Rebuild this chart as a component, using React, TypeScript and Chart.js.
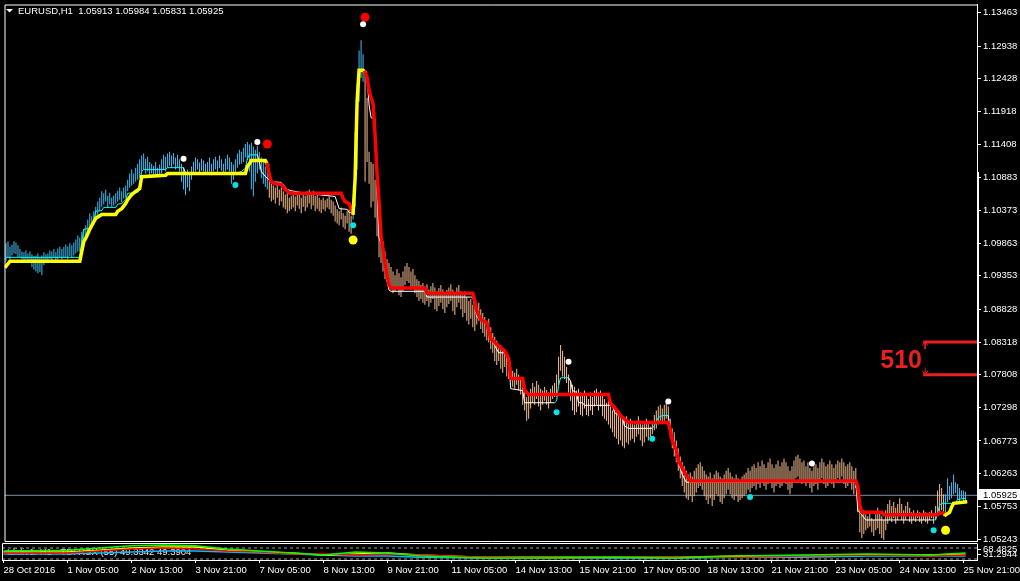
import React, { useEffect, useRef } from 'react';
import { Chart, registerables } from 'chart.js';

Chart.register(...registerables);

// ---------- data ----------
const HEADER_TEXT = 'EURUSD,H1  1.05913 1.05984 1.05831 1.05925';
const IND_TEXT = 'tdidiv1: H1 - TDI RSX (55) 49.3342 49.3904';

const X_TICK_IDX = [0, 32, 64, 96, 128, 160, 192, 224, 256, 288, 320, 352, 384, 416, 448, 480];
const X_TICK_LABELS = ['28 Oct 2016', '1 Nov 05:00', '2 Nov 13:00', '3 Nov 21:00', '7 Nov 05:00', '8 Nov 13:00', '9 Nov 21:00', '11 Nov 05:00', '14 Nov 13:00', '15 Nov 21:00', '17 Nov 05:00', '18 Nov 13:00', '21 Nov 21:00', '23 Nov 05:00', '24 Nov 13:00', '25 Nov 21:00'];

const Y_TICKS = [1.13463, 1.12938, 1.12428, 1.11918, 1.11408, 1.10883, 1.10373, 1.09863, 1.09353, 1.08828, 1.08318, 1.07808, 1.07298, 1.06773, 1.06263, 1.05753, 1.05243];

const BAR_HIGH = [
  1.0986, 1.0989, 1.0980, 1.0984, 1.0989, 1.0987, 1.0983, 1.0977, 1.0973, 1.0972,
  1.0975, 1.0970, 1.0973, 1.0969, 1.0966, 1.0967, 1.0970, 1.0964, 1.0967, 1.0972,
  1.0969, 1.0970, 1.0975, 1.0973, 1.0977, 1.0972, 1.0978, 1.0981, 1.0977, 1.0980,
  1.0984, 1.0981, 1.0986, 1.0983, 1.0987, 1.0992, 1.0998, 1.0995, 1.1004, 1.1008,
  1.1014, 1.1023, 1.1033, 1.1028, 1.1036, 1.1043, 1.1051, 1.1057, 1.1067, 1.1064,
  1.1070, 1.1060, 1.1065, 1.1057, 1.1060, 1.1064, 1.1068, 1.1073, 1.1067, 1.1073,
  1.1076, 1.1085, 1.1095, 1.1101, 1.1095, 1.1104, 1.1110, 1.1117, 1.1123, 1.1126,
  1.1118, 1.1121, 1.1113, 1.1110, 1.1107, 1.1113, 1.1104, 1.1109, 1.1117, 1.1124,
  1.1121, 1.1126, 1.1129, 1.1123, 1.1127, 1.1120, 1.1124, 1.1117, 1.1110, 1.1104,
  1.1098, 1.1101, 1.1095, 1.1106, 1.1113, 1.1120, 1.1117, 1.1112, 1.1118, 1.1115,
  1.1110, 1.1113, 1.1120, 1.1110, 1.1117, 1.1121, 1.1115, 1.1123, 1.1117, 1.1110,
  1.1118, 1.1124, 1.1120, 1.1113, 1.1109, 1.1117, 1.1126, 1.1132, 1.1129, 1.1135,
  1.1141, 1.1144, 1.1140, 1.1143, 1.1137, 1.1132, 1.1138, 1.1129, 1.1120, 1.1113,
  1.1106, 1.1098, 1.1088, 1.1079, 1.1076, 1.1073, 1.1078, 1.1070, 1.1073, 1.1067,
  1.1062, 1.1064, 1.1057, 1.1060, 1.1064, 1.1059, 1.1067, 1.1062, 1.1057, 1.1064,
  1.1060, 1.1067, 1.1070, 1.1064, 1.1068, 1.1060, 1.1065, 1.1057, 1.1054, 1.1057,
  1.1053, 1.1056, 1.1059, 1.1054, 1.1051, 1.1045, 1.1039, 1.1036, 1.1042, 1.1033,
  1.1029, 1.1036, 1.1039, 1.1029, 1.1057, 1.1160, 1.1234, 1.1287, 1.1303, 1.1281,
  1.1253, 1.1213, 1.1129, 1.1113, 1.1110, 1.1085, 1.1098, 1.1033, 1.1001, 1.0989,
  1.0973, 1.0961, 1.0955, 1.0949, 1.0942, 1.0936, 1.0946, 1.0939, 1.0933, 1.0942,
  1.0950, 1.0955, 1.0949, 1.0942, 1.0946, 1.0936, 1.0930, 1.0927, 1.0921, 1.0924,
  1.0917, 1.0922, 1.0914, 1.0919, 1.0924, 1.0917, 1.0911, 1.0916, 1.0921, 1.0914,
  1.0908, 1.0913, 1.0917, 1.0922, 1.0914, 1.0908, 1.0917, 1.0921, 1.0911, 1.0905,
  1.0911, 1.0902, 1.0896, 1.0899, 1.0890, 1.0883, 1.0886, 1.0893, 1.0883, 1.0877,
  1.0871, 1.0865, 1.0868, 1.0855, 1.0846, 1.0840, 1.0834, 1.0824, 1.0827, 1.0818,
  1.0821, 1.0815, 1.0802, 1.0793, 1.0787, 1.0784, 1.0790, 1.0781, 1.0774, 1.0762,
  1.0756, 1.0746, 1.0750, 1.0759, 1.0768, 1.0762, 1.0771, 1.0765, 1.0759, 1.0756,
  1.0762, 1.0757, 1.0753, 1.0759, 1.0764, 1.0768, 1.0781, 1.0809, 1.0827, 1.0818,
  1.0809, 1.0793, 1.0781, 1.0771, 1.0765, 1.0762, 1.0756, 1.0759, 1.0753, 1.0750,
  1.0756, 1.0750, 1.0743, 1.0753, 1.0746, 1.0756, 1.0759, 1.0753, 1.0756, 1.0750,
  1.0743, 1.0737, 1.0740, 1.0731, 1.0725, 1.0728, 1.0722, 1.0716, 1.0718, 1.0712,
  1.0709, 1.0716, 1.0706, 1.0712, 1.0709, 1.0703, 1.0709, 1.0716, 1.0709, 1.0703,
  1.0706, 1.0712, 1.0706, 1.0700, 1.0709, 1.0718, 1.0725, 1.0731, 1.0734, 1.0728,
  1.0734, 1.0737, 1.0731, 1.0712, 1.0697, 1.0691, 1.0678, 1.0666, 1.0653, 1.0644,
  1.0638, 1.0631, 1.0625, 1.0628, 1.0622, 1.0631, 1.0635, 1.0641, 1.0644, 1.0638,
  1.0631, 1.0625, 1.0622, 1.0628, 1.0619, 1.0625, 1.0631, 1.0628, 1.0622, 1.0619,
  1.0625, 1.0631, 1.0635, 1.0628, 1.0622, 1.0619, 1.0625, 1.0619, 1.0616, 1.0622,
  1.0625, 1.0628, 1.0635, 1.0631, 1.0638, 1.0641, 1.0635, 1.0644, 1.0638, 1.0647,
  1.0641, 1.0635, 1.0644, 1.0650, 1.0641, 1.0635, 1.0641, 1.0647, 1.0638, 1.0644,
  1.0650, 1.0644, 1.0638, 1.0631, 1.0638, 1.0647, 1.0653, 1.0656, 1.0650, 1.0644,
  1.0647, 1.0638, 1.0644, 1.0635, 1.0631, 1.0638, 1.0641, 1.0635, 1.0644, 1.0650,
  1.0644, 1.0638, 1.0641, 1.0647, 1.0641, 1.0635, 1.0641, 1.0647, 1.0644, 1.0650,
  1.0644, 1.0638, 1.0641, 1.0644, 1.0638, 1.0631, 1.0635, 1.0610, 1.0576, 1.0566,
  1.0569, 1.0563, 1.0560, 1.0566, 1.0557, 1.0554, 1.0563, 1.0573, 1.0566, 1.0560,
  1.0554, 1.0569, 1.0579, 1.0585, 1.0576, 1.0582, 1.0573, 1.0579, 1.0588, 1.0579,
  1.0569, 1.0576, 1.0582, 1.0573, 1.0566, 1.0569, 1.0563, 1.0569, 1.0566, 1.0563,
  1.0569, 1.0566, 1.0561, 1.0566, 1.0569, 1.0563, 1.0576, 1.0600, 1.0610, 1.0604,
  1.0594, 1.0594, 1.0619, 1.0607, 1.0613, 1.0625, 1.0613, 1.0610, 1.0604, 1.0600,
  1.0600, 1.0598,
];

const BAR_LOW = [
  1.0958, 1.0964, 1.0961, 1.0967, 1.0970, 1.0969, 1.0964, 1.0963, 1.0961, 1.0960,
  1.0961, 1.0960, 1.0955, 1.0949, 1.0945, 1.0942, 1.0939, 1.0941, 1.0936, 1.0952,
  1.0955, 1.0958, 1.0961, 1.0960, 1.0963, 1.0958, 1.0961, 1.0964, 1.0961, 1.0963,
  1.0964, 1.0961, 1.0966, 1.0963, 1.0967, 1.0970, 1.0973, 1.0972, 1.0977, 1.0981,
  1.0989, 1.0995, 1.1001, 1.1008, 1.1014, 1.1020, 1.1029, 1.1036, 1.1043, 1.1047,
  1.1051, 1.1042, 1.1047, 1.1043, 1.1045, 1.1048, 1.1051, 1.1054, 1.1050, 1.1056,
  1.1057, 1.1067, 1.1073, 1.1076, 1.1079, 1.1082, 1.1085, 1.1088, 1.1098, 1.1101,
  1.1095, 1.1098, 1.1092, 1.1095, 1.1092, 1.1093, 1.1090, 1.1093, 1.1095, 1.1101,
  1.1098, 1.1104, 1.1107, 1.1104, 1.1109, 1.1101, 1.1104, 1.1098, 1.1082, 1.1070,
  1.1061, 1.1073, 1.1067, 1.1085, 1.1095, 1.1098, 1.1101, 1.1096, 1.1099, 1.1098,
  1.1095, 1.1095, 1.1098, 1.1092, 1.1098, 1.1101, 1.1096, 1.1103, 1.1099, 1.1093,
  1.1098, 1.1101, 1.1098, 1.1079, 1.1085, 1.1095, 1.1104, 1.1109, 1.1110, 1.1113,
  1.1120, 1.1116, 1.1098, 1.1070, 1.1059, 1.1082, 1.1095, 1.1101, 1.1088, 1.1079,
  1.1074, 1.1070, 1.1057, 1.1051, 1.1054, 1.1048, 1.1057, 1.1045, 1.1051, 1.1042,
  1.1039, 1.1033, 1.1036, 1.1039, 1.1042, 1.1036, 1.1045, 1.1040, 1.1033, 1.1043,
  1.1036, 1.1042, 1.1048, 1.1039, 1.1045, 1.1036, 1.1040, 1.1036, 1.1033, 1.1039,
  1.1036, 1.1042, 1.1039, 1.1033, 1.1029, 1.1020, 1.1017, 1.1014, 1.1023, 1.1011,
  1.1008, 1.1017, 1.1004, 1.1001, 1.1023, 1.1043, 1.1101, 1.1207, 1.1244, 1.1238,
  1.1082, 1.1113, 1.1079, 1.1042, 1.1051, 1.1026, 1.0997, 1.0964, 1.0955, 1.0942,
  1.0930, 1.0927, 1.0921, 1.0914, 1.0908, 1.0911, 1.0917, 1.0905, 1.0902, 1.0911,
  1.0921, 1.0927, 1.0924, 1.0914, 1.0917, 1.0908, 1.0902, 1.0896, 1.0899, 1.0893,
  1.0890, 1.0896, 1.0887, 1.0893, 1.0899, 1.0883, 1.0880, 1.0888, 1.0893, 1.0883,
  1.0877, 1.0886, 1.0891, 1.0896, 1.0880, 1.0874, 1.0886, 1.0893, 1.0883, 1.0871,
  1.0877, 1.0865, 1.0859, 1.0868, 1.0855, 1.0849, 1.0859, 1.0865, 1.0852, 1.0846,
  1.0840, 1.0834, 1.0831, 1.0821, 1.0815, 1.0802, 1.0796, 1.0802, 1.0790, 1.0784,
  1.0793, 1.0778, 1.0774, 1.0771, 1.0762, 1.0759, 1.0765, 1.0756, 1.0750, 1.0734,
  1.0725, 1.0709, 1.0712, 1.0728, 1.0737, 1.0734, 1.0743, 1.0731, 1.0725, 1.0734,
  1.0740, 1.0734, 1.0728, 1.0737, 1.0743, 1.0746, 1.0746, 1.0764, 1.0787, 1.0778,
  1.0774, 1.0768, 1.0753, 1.0740, 1.0725, 1.0718, 1.0722, 1.0731, 1.0718, 1.0716,
  1.0728, 1.0718, 1.0716, 1.0725, 1.0718, 1.0731, 1.0734, 1.0725, 1.0731, 1.0716,
  1.0712, 1.0709, 1.0703, 1.0697, 1.0691, 1.0684, 1.0681, 1.0672, 1.0678, 1.0669,
  1.0666, 1.0675, 1.0672, 1.0678, 1.0681, 1.0675, 1.0684, 1.0688, 1.0678, 1.0669,
  1.0675, 1.0684, 1.0678, 1.0681, 1.0688, 1.0694, 1.0697, 1.0703, 1.0709, 1.0706,
  1.0709, 1.0712, 1.0700, 1.0681, 1.0666, 1.0653, 1.0644, 1.0631, 1.0619, 1.0607,
  1.0597, 1.0588, 1.0585, 1.0591, 1.0582, 1.0591, 1.0597, 1.0604, 1.0607, 1.0601,
  1.0591, 1.0585, 1.0579, 1.0588, 1.0576, 1.0585, 1.0594, 1.0591, 1.0582, 1.0579,
  1.0588, 1.0594, 1.0601, 1.0594, 1.0588, 1.0585, 1.0591, 1.0582, 1.0585, 1.0588,
  1.0591, 1.0594, 1.0601, 1.0597, 1.0604, 1.0607, 1.0601, 1.0610, 1.0604, 1.0613,
  1.0607, 1.0601, 1.0610, 1.0613, 1.0604, 1.0597, 1.0607, 1.0610, 1.0604, 1.0607,
  1.0616, 1.0610, 1.0601, 1.0594, 1.0604, 1.0613, 1.0619, 1.0622, 1.0616, 1.0610,
  1.0613, 1.0607, 1.0613, 1.0604, 1.0597, 1.0607, 1.0610, 1.0601, 1.0613, 1.0619,
  1.0610, 1.0604, 1.0607, 1.0616, 1.0610, 1.0604, 1.0613, 1.0619, 1.0616, 1.0622,
  1.0610, 1.0604, 1.0607, 1.0613, 1.0601, 1.0594, 1.0604, 1.0566, 1.0535, 1.0526,
  1.0532, 1.0538, 1.0541, 1.0544, 1.0535, 1.0529, 1.0538, 1.0541, 1.0532, 1.0526,
  1.0523, 1.0538, 1.0548, 1.0554, 1.0551, 1.0557, 1.0548, 1.0554, 1.0560, 1.0554,
  1.0548, 1.0554, 1.0560, 1.0551, 1.0548, 1.0554, 1.0551, 1.0557, 1.0551, 1.0548,
  1.0554, 1.0551, 1.0548, 1.0554, 1.0557, 1.0548, 1.0554, 1.0562, 1.0566, 1.0569,
  1.0560, 1.0563, 1.0582, 1.0585, 1.0588, 1.0594, 1.0596, 1.0585, 1.0582, 1.0588,
  1.0580, 1.0583,
];

// trend regime per bar (U = up / blue bars, D = down / tan bars)
const TREND_SWITCH_IDX = [0, 132, 174, 180, 471];
const TREND_SWITCH_DIR = ['U', 'D', 'U', 'D', 'U'];

// thick support/resistance line (yellow when U, red when D)
const TREND_IDX = [0, 2, 37, 39, 40, 42, 45, 47, 48, 55, 56, 58, 60, 61, 63, 65, 67, 68, 80, 81, 120, 121, 122, 123, 130, 131, 132, 133, 135, 138, 140, 142, 143, 168, 169, 170, 172, 173, 174, 175, 176, 177, 179, 180, 181, 182, 183, 184, 185, 186, 187, 188, 189, 190, 191, 192, 193, 210, 211, 234, 235, 236, 237, 238, 241, 243, 245, 248, 250, 252, 253, 259, 260, 262, 302, 303, 305, 307, 308, 310, 312, 332, 333, 334, 336, 337, 339, 341, 343, 426, 427, 428, 429, 439, 440, 467, 468, 470, 471, 473, 474, 475, 481];
const TREND_PRICE = [1.0950, 1.0958, 1.0958, 1.0989, 1.0994, 1.1008, 1.1025, 1.1029, 1.1031, 1.1031, 1.1036, 1.1040, 1.1048, 1.1054, 1.1062, 1.1067, 1.1071, 1.1090, 1.1092, 1.1095, 1.1095, 1.1106, 1.1110, 1.1115, 1.1115, 1.1109, 1.1093, 1.1082, 1.1079, 1.1078, 1.1070, 1.1065, 1.1064, 1.1064, 1.1056, 1.1051, 1.1048, 1.1040, 1.1033, 1.1087, 1.1207, 1.1256, 1.1256, 1.1253, 1.1245, 1.1225, 1.1213, 1.1204, 1.1155, 1.1095, 1.1051, 1.0997, 1.0977, 1.0955, 1.0935, 1.0921, 1.0916, 1.0916, 1.0908, 1.0908, 1.0896, 1.0880, 1.0873, 1.0867, 1.0862, 1.0837, 1.0831, 1.0823, 1.0818, 1.0806, 1.0775, 1.0775, 1.0756, 1.0750, 1.0750, 1.0736, 1.0730, 1.0722, 1.0717, 1.0712, 1.0706, 1.0706, 1.0694, 1.0678, 1.0663, 1.0647, 1.0635, 1.0624, 1.0615, 1.0615, 1.0606, 1.0577, 1.0566, 1.0566, 1.0562, 1.0562, 1.0565, 1.0565, 1.0562, 1.0566, 1.0574, 1.0580, 1.0582];
const TREND_DIR = ['U', 'U', 'U', 'U', 'U', 'U', 'U', 'U', 'U', 'U', 'U', 'U', 'U', 'U', 'U', 'U', 'U', 'U', 'U', 'U', 'U', 'U', 'U', 'U', 'U', 'D', 'D', 'D', 'D', 'D', 'D', 'D', 'D', 'D', 'D', 'D', 'D', 'D', 'U', 'U', 'U', 'U', 'U', 'D', 'D', 'D', 'D', 'D', 'D', 'D', 'D', 'D', 'D', 'D', 'D', 'D', 'D', 'D', 'D', 'D', 'D', 'D', 'D', 'D', 'D', 'D', 'D', 'D', 'D', 'D', 'D', 'D', 'D', 'D', 'D', 'D', 'D', 'D', 'D', 'D', 'D', 'D', 'D', 'D', 'D', 'D', 'D', 'D', 'D', 'D', 'D', 'D', 'D', 'D', 'D', 'D', 'D', 'D', 'U', 'U', 'U', 'U', 'U'];

// thin trailing line (cyan when C, white when W)
const TRAIL_IDX = [0, 37, 38, 39, 42, 44, 45, 48, 49, 55, 56, 58, 60, 61, 66, 67, 68, 69, 80, 81, 89, 90, 115, 118, 120, 121, 122, 126, 127, 128, 130, 132, 133, 138, 140, 141, 143, 150, 165, 167, 171, 172, 174, 175, 176, 177, 178, 180, 181, 182, 183, 185, 186, 187, 189, 190, 191, 192, 193, 210, 211, 234, 236, 240, 242, 245, 247, 250, 252, 253, 259, 260, 275, 276, 277, 278, 282, 283, 284, 286, 287, 289, 290, 304, 305, 307, 309, 310, 312, 324, 325, 327, 329, 332, 333, 335, 337, 339, 341, 343, 426, 427, 429, 431, 465, 466, 467, 468, 469, 476, 477, 481];
const TRAIL_PRICE = [1.0964, 1.0964, 1.0989, 1.1008, 1.1009, 1.1020, 1.1036, 1.1037, 1.1042, 1.1042, 1.1047, 1.1048, 1.1054, 1.1064, 1.1065, 1.1071, 1.1098, 1.1101, 1.1101, 1.1104, 1.1104, 1.1095, 1.1095, 1.1098, 1.1103, 1.1118, 1.1124, 1.1124, 1.1113, 1.1098, 1.1090, 1.1085, 1.1082, 1.1081, 1.1074, 1.1070, 1.1068, 1.1064, 1.1059, 1.1040, 1.1039, 1.1034, 1.1033, 1.1087, 1.1207, 1.1256, 1.1256, 1.1256, 1.1245, 1.1202, 1.1182, 1.1180, 1.1067, 1.0994, 1.0978, 1.0946, 1.0927, 1.0913, 1.0911, 1.0911, 1.0902, 1.0902, 1.0871, 1.0865, 1.0849, 1.0826, 1.0815, 1.0815, 1.0802, 1.0759, 1.0756, 1.0737, 1.0737, 1.0740, 1.0764, 1.0776, 1.0776, 1.0771, 1.0756, 1.0753, 1.0737, 1.0737, 1.0733, 1.0733, 1.0722, 1.0717, 1.0714, 1.0701, 1.0697, 1.0697, 1.0701, 1.0714, 1.0717, 1.0717, 1.0694, 1.0666, 1.0644, 1.0625, 1.0613, 1.0613, 1.0613, 1.0569, 1.0562, 1.0554, 1.0554, 1.0554, 1.0565, 1.0577, 1.0580, 1.0580, 1.0586, 1.0588];
const TRAIL_DIR = ['C', 'C', 'C', 'C', 'C', 'C', 'C', 'C', 'C', 'C', 'C', 'C', 'C', 'C', 'C', 'C', 'C', 'C', 'C', 'C', 'W', 'W', 'C', 'C', 'C', 'C', 'C', 'W', 'W', 'W', 'W', 'W', 'W', 'W', 'W', 'W', 'W', 'W', 'W', 'W', 'W', 'W', 'C', 'C', 'C', 'C', 'W', 'W', 'W', 'W', 'W', 'W', 'W', 'W', 'W', 'W', 'W', 'W', 'W', 'W', 'W', 'W', 'W', 'W', 'W', 'W', 'W', 'W', 'W', 'W', 'W', 'W', 'C', 'C', 'C', 'C', 'W', 'W', 'W', 'W', 'W', 'W', 'W', 'W', 'W', 'W', 'W', 'W', 'W', 'C', 'C', 'C', 'C', 'W', 'W', 'W', 'W', 'W', 'W', 'W', 'W', 'W', 'W', 'W', 'C', 'C', 'C', 'C', 'C', 'C', 'C', 'C'];

// signal dots
const WHITE_DOT_IDX = [89, 126, 179, 282, 332, 404];
const WHITE_DOT_PRICE = [1.1118, 1.1144, 1.1328, 1.0801, 1.0739, 1.0642];
const RED_DOT_IDX = [131, 180];
const RED_DOT_PRICE = [1.1141, 1.1339];
const CYAN_DOT_IDX = [115, 174, 276, 324, 373, 465];
const CYAN_DOT_PRICE = [1.1077, 1.1014, 1.0722, 1.0681, 1.0590, 1.0538];
const YELLOW_DOT_IDX = [174, 471];
const YELLOW_DOT_PRICE = [1.0991, 1.0538];

const CURRENT_PRICE = 1.05925;

// the "510" drawing
const LEVEL_PRICES = [1.08318, 1.07808];
const LEVEL_START_IDX = 459.75;
const LEVEL_TEXT = '510';
const LEVEL_TEXT_IDX = 438.25;
const LEVEL_TEXT_PRICE = 1.0791;
const ARROW_UP_IDX = [459.25, 460.75, 462.25];
const ARROW_UP_PRICE = [1.0826, 1.0832, 1.0826];
const ARROW_DN_IDX = [459.25, 460.75, 462.25];
const ARROW_DN_PRICE = [1.0787, 1.0781, 1.0787];

// TDI indicator sub-window
const IND_IDX = [0, 32, 48, 64, 80, 96, 112, 128, 144, 160, 176, 192, 208, 240, 272, 304, 336, 368, 400, 432, 464, 481];
const IND_GREEN = [58, 61, 68, 75, 78, 75, 65, 58, 52, 45, 55, 52, 42, 35, 35, 38, 35, 42, 45, 48, 45, 52];
const IND_YELLOW = [55, 55, 61, 68, 71, 71, 61, 55, 52, 45, 48, 52, 45, 38, 38, 38, 38, 42, 42, 45, 45, 48];
const IND_RED = [52, 52, 58, 65, 68, 65, 58, 55, 48, 48, 45, 48, 45, 38, 35, 38, 38, 38, 42, 45, 42, 45];
const IND_CYAN = [48, 48, 52, 55, 58, 58, 55, 52, 48, 45, 42, 42, 38, 35, 35, 35, 35, 38, 38, 42, 42, 42];
const IND_LEVELS = [68, 32];
const IND_AXIS_VALUES = [64.5, 45.5];
const IND_AXIS_LABELS = ['68.4825', '31.2944'];

// ---------- layout / style ----------
const X_MIN = -0.75;
const X_MAX = 486.75;
const Y_MIN = 1.052118;
const Y_MAX = 1.135873;
const IND_MIN = 28.7;
const IND_MAX = 81.1;
const FONT = "'Liberation Sans', Arial, sans-serif";
const FS = 9.5;
const AXIS_W = 43;

const C_BLUE = '#44BCF2';
const C_TAN = '#F6BE92';
const C_YELLOW = '#FFFF00';
const C_RED = '#FF0000';
const C_CYAN = '#00FFFF';
const C_WHITE = '#FFFFFF';
const C_LEVEL = '#EB1E23';

function regimeAt(i: number) {
  let d = 'U';
  for (let k = 0; k < TREND_SWITCH_IDX.length; k++) if (i >= TREND_SWITCH_IDX[k]) d = TREND_SWITCH_DIR[k];
  return d;
}

const pts = (xs: number[], ys: number[]) => xs.map((x, i) => ({ x, y: ys[i] }));

function dots(xs: number[], ys: number[], color: string, r: number) {
  return {
    type: 'line', data: pts(xs, ys), showLine: false, pointRadius: r, pointBackgroundColor: color,
    pointBorderWidth: 0, pointBorderColor: color, order: 0,
  };
}

function buildMain(canvas: HTMLCanvasElement) {
  const barColors = BAR_HIGH.map((_, i) => (regimeAt(i) === 'U' ? C_BLUE : C_TAN));
  const decor = {
    id: 'mainDecor',
    beforeDraw(chart: any) {
      const { ctx, width, height } = chart;
      ctx.save();
      ctx.fillStyle = '#000000';
      ctx.fillRect(0, 0, width, height);
      ctx.restore();
    },
    afterDraw(chart: any) {
      const { ctx, chartArea: ca, scales } = chart;
      const y = scales.y; const x = scales.x;
      ctx.save();
      ctx.strokeStyle = '#FFFFFF';
      ctx.lineWidth = 1;
      ctx.beginPath();
      ctx.moveTo(ca.left + 0.5, ca.bottom + 0.5);
      ctx.lineTo(ca.left + 0.5, ca.top + 0.5);
      ctx.lineTo(ca.right + 0.5, ca.top + 0.5);
      ctx.moveTo(ca.left + 0.5, ca.bottom + 0.5);
      ctx.lineTo(ca.right + 0.5, ca.bottom + 0.5);
      ctx.moveTo(ca.right + 1.5, 172);
      ctx.lineTo(ca.right + 1.5, 489);
      ctx.stroke();
      // header
      ctx.fillStyle = '#FFFFFF';
      ctx.beginPath();
      ctx.moveTo(6, 9); ctx.lineTo(13, 9); ctx.lineTo(9.5, 12.5); ctx.closePath();
      ctx.fill();
      ctx.font = `${FS}px ${FONT}`;
      ctx.textAlign = 'left';
      ctx.textBaseline = 'alphabetic';
      ctx.fillText(HEADER_TEXT, 18, 14);
      // current price label
      const py = Math.round(y.getPixelForValue(CURRENT_PRICE)) - 0.5;
      ctx.fillStyle = '#FFFFFF';
      ctx.fillRect(ca.right + 1, py - 5.5, AXIS_W, 11);
      ctx.fillStyle = '#000000';
      ctx.textBaseline = 'middle';
      ctx.fillText(CURRENT_PRICE.toFixed(5), ca.right + 6, py + 0.5);
      // 510 text
      ctx.fillStyle = C_LEVEL;
      ctx.font = `bold 25px ${FONT}`;
      ctx.textBaseline = 'alphabetic';
      ctx.fillText(LEVEL_TEXT, x.getPixelForValue(LEVEL_TEXT_IDX), y.getPixelForValue(LEVEL_TEXT_PRICE));
      ctx.restore();
    },
  };

  return new Chart(canvas, {
    type: 'line',
    data: {
      datasets: [
        dots(WHITE_DOT_IDX, WHITE_DOT_PRICE, C_WHITE, 3),
        dots(RED_DOT_IDX, RED_DOT_PRICE, C_RED, 4.5),
        dots(CYAN_DOT_IDX, CYAN_DOT_PRICE, '#00E6E6', 3),
        dots(YELLOW_DOT_IDX, YELLOW_DOT_PRICE, C_YELLOW, 4.5),
        {
          type: 'line', data: pts(TREND_IDX, TREND_PRICE), borderWidth: 3.5, borderColor: C_YELLOW,
          segment: { borderColor: (c: any) => (TREND_DIR[c.p0DataIndex] === 'U' ? C_YELLOW : C_RED) },
          pointRadius: 0, tension: 0, fill: false, borderCapStyle: 'square', borderJoinStyle: 'miter', order: 1,
        },
        {
          type: 'line', data: pts(TRAIL_IDX, TRAIL_PRICE), borderWidth: 1, borderColor: C_WHITE,
          segment: { borderColor: (c: any) => (TRAIL_DIR[c.p0DataIndex] === 'C' ? C_CYAN : C_WHITE) },
          pointRadius: 0, tension: 0, fill: false, order: 2,
        },
        ...LEVEL_PRICES.map((p) => ({
          type: 'line', data: [{ x: LEVEL_START_IDX, y: p }, { x: X_MAX, y: p }], borderColor: C_LEVEL,
          borderWidth: 3, pointRadius: 0, order: 3,
        })),
        {
          type: 'line', data: pts(ARROW_UP_IDX, ARROW_UP_PRICE), borderColor: C_LEVEL, borderWidth: 1, pointRadius: 0, order: 3,
        },
        {
          type: 'line', data: [{ x: ARROW_UP_IDX[1], y: ARROW_UP_PRICE[1] }, { x: ARROW_UP_IDX[1], y: LEVEL_PRICES[0] - 0.0011 }],
          borderColor: C_LEVEL, borderWidth: 1, pointRadius: 0, order: 3,
        },
        {
          type: 'line', data: pts(ARROW_DN_IDX, ARROW_DN_PRICE), borderColor: C_LEVEL, borderWidth: 1, pointRadius: 0, order: 3,
        },
        {
          type: 'line', data: [{ x: ARROW_DN_IDX[1], y: ARROW_DN_PRICE[1] }, { x: ARROW_DN_IDX[1], y: LEVEL_PRICES[1] + 0.0011 }],
          borderColor: C_LEVEL, borderWidth: 1, pointRadius: 0, order: 3,
        },
        {
          type: 'bar', data: BAR_HIGH.map((h, i) => ({ x: i, y: [BAR_LOW[i], h] })), backgroundColor: barColors,
          borderWidth: 0, barThickness: 1, maxBarThickness: 1, inflateAmount: 0, order: 4,
        },
        {
          type: 'line', data: [{ x: X_MIN, y: CURRENT_PRICE }, { x: X_MAX, y: CURRENT_PRICE }], borderColor: '#7A8CA0',
          borderWidth: 1, pointRadius: 0, order: 5,
        },
      ] as any,
    },
    options: {
      responsive: false,
      animation: false,
      events: [],
      layout: { padding: { left: 2, top: 2, right: 0, bottom: 40 } },
      plugins: { legend: { display: false }, tooltip: { enabled: false } },
      scales: {
        x: { type: 'linear', min: X_MIN, max: X_MAX, display: false, offset: false, bounds: 'data' },
        y: {
          type: 'linear', position: 'right', min: Y_MIN, max: Y_MAX, bounds: 'data',
          afterBuildTicks: (s: any) => { s.ticks = Y_TICKS.map((v) => ({ value: v })); },
          afterFit: (s: any) => { s.width = AXIS_W; s.paddingTop = 0; s.paddingBottom = 0; },
          grid: { display: true, drawOnChartArea: false, drawTicks: true, tickLength: 4, color: '#FFFFFF' },
          border: { display: true, color: '#FFFFFF', width: 1 },
          ticks: {
            color: '#FFFFFF', font: { family: FONT, size: FS }, padding: 2, autoSkip: false,
            callback: (v: any) => Number(v).toFixed(5),
          },
        },
      },
    } as any,
    plugins: [decor],
  } as any);
}

function buildInd(canvas: HTMLCanvasElement) {
  const decor = {
    id: 'indDecor',
    beforeDatasetsDraw(chart: any) {
      const { ctx, chartArea: ca } = chart;
      ctx.save();
      ctx.fillStyle = '#E8E8E8';
      ctx.font = `${FS}px ${FONT}`;
      ctx.textAlign = 'left';
      ctx.textBaseline = 'alphabetic';
      ctx.fillText(IND_TEXT, 7, ca.top + 11);
      ctx.restore();
    },
    afterDraw(chart: any) {
      const { ctx, chartArea: ca } = chart;
      ctx.save();
      ctx.strokeStyle = '#FFFFFF';
      ctx.lineWidth = 1;
      ctx.beginPath();
      ctx.moveTo(ca.left + 0.5, ca.bottom);
      ctx.lineTo(ca.left + 0.5, ca.top - 0.5);
      ctx.lineTo(ca.right + 0.5, ca.top - 0.5);
      ctx.stroke();
      ctx.restore();
    },
  };
  const line = (vals: number[], color: string) => ({
    type: 'line', data: pts(IND_IDX, vals), borderColor: color, borderWidth: 1.5, pointRadius: 0, tension: 0, fill: false,
  });
  return new Chart(canvas, {
    type: 'line',
    data: {
      datasets: [
        line(IND_GREEN, '#00FF00'),
        line(IND_RED, '#FF0000'),
        line(IND_YELLOW, '#FFFF00'),
        line(IND_CYAN, '#00BFFF'),
        ...IND_LEVELS.map((v) => ({
          type: 'line', data: [{ x: X_MIN, y: v }, { x: X_MAX, y: v }], borderColor: '#9A9A9A', borderWidth: 1,
          borderDash: [3, 3], pointRadius: 0,
        })),
      ] as any,
    },
    options: {
      responsive: false,
      animation: false,
      events: [],
      layout: { padding: { left: 2, top: 1, right: 0, bottom: 0 } },
      plugins: { legend: { display: false }, tooltip: { enabled: false } },
      scales: {
        x: {
          type: 'linear', min: X_MIN, max: X_MAX, offset: false, bounds: 'data', position: 'bottom',
          afterBuildTicks: (s: any) => { s.ticks = X_TICK_IDX.map((v) => ({ value: v })); },
          afterFit: (s: any) => { s.height = 21; s.paddingLeft = 0; s.paddingRight = 0; },
          grid: { display: true, drawOnChartArea: false, drawTicks: true, tickLength: 3, color: '#FFFFFF' },
          border: { display: true, color: '#FFFFFF', width: 1 },
          ticks: {
            color: '#FFFFFF', font: { family: FONT, size: FS }, padding: 2, autoSkip: false, align: 'start',
            maxRotation: 0, minRotation: 0,
            callback: (_v: any, i: number) => X_TICK_LABELS[i],
          },
        },
        y: {
          type: 'linear', position: 'right', min: IND_MIN, max: IND_MAX, bounds: 'data',
          afterBuildTicks: (s: any) => { s.ticks = IND_AXIS_VALUES.map((v) => ({ value: v })); },
          afterFit: (s: any) => { s.width = AXIS_W; s.paddingTop = 0; s.paddingBottom = 0; },
          grid: { display: true, drawOnChartArea: false, drawTicks: true, tickLength: 4, color: '#FFFFFF' },
          border: { display: true, color: '#FFFFFF', width: 1 },
          ticks: {
            color: '#FFFFFF', font: { family: FONT, size: FS }, padding: 2, autoSkip: false,
            callback: (_v: any, i: number) => IND_AXIS_LABELS[i],
          },
        },
      },
    } as any,
    plugins: [decor],
  } as any);
}

export default function App() {
  const refA = useRef<HTMLCanvasElement>(null);
  const refB = useRef<HTMLCanvasElement>(null);
  useEffect(() => {
    const a = buildMain(refA.current as HTMLCanvasElement);
    const b = buildInd(refB.current as HTMLCanvasElement);
    return () => { a.destroy(); b.destroy(); };
  }, []);
  return (
    <div style={{ position: 'absolute', left: 0, top: 0, width: 1020, height: 581, background: '#000', overflow: 'hidden' }}>
      <canvas ref={refA} width={1020} height={581} style={{ position: 'absolute', left: 0, top: 0 }} />
      <canvas ref={refB} width={1020} height={38} style={{ position: 'absolute', left: 0, top: 543 }} />
    </div>
  );
}
